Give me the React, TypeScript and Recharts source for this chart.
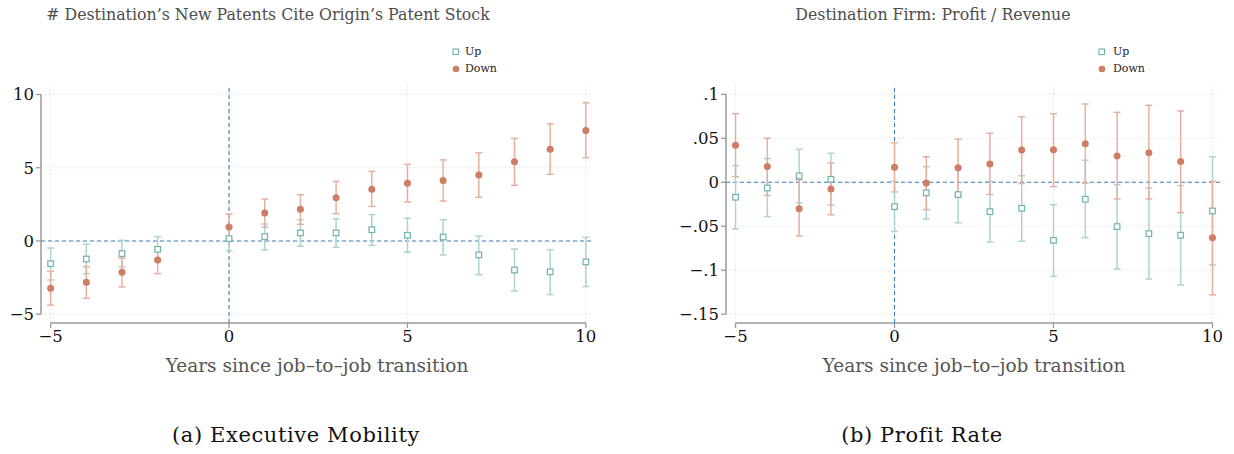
import React from "react"
import {
  CartesianGrid,
  ComposedChart,
  ErrorBar,
  ReferenceLine,
  Scatter,
  XAxis,
  YAxis,
} from "recharts"

const years = [-5, -4, -3, -2, 0, 1, 2, 3, 4, 5, 6, 7, 8, 9, 10]
const xTicks = [-5, 0, 5, 10]

// panel (a): destination's new patents citing origin's patent stock
const patentUp = [-1.55, -1.23, -0.86, -0.57, 0.16, 0.3, 0.55, 0.55, 0.77, 0.39, 0.27, -0.95, -1.98, -2.11, -1.43]
const patentUpLo = [-2.66, -2.23, -1.77, -1.43, -0.66, -0.61, -0.36, -0.43, -0.3, -0.77, -0.95, -2.3, -3.41, -3.66, -3.11]
const patentUpHi = [-0.48, -0.23, 0.05, 0.3, 1.0, 1.16, 1.45, 1.52, 1.8, 1.55, 1.45, 0.34, -0.55, -0.59, 0.25]
const patentDown = [-3.23, -2.82, -2.14, -1.3, 0.95, 1.91, 2.16, 2.95, 3.54, 3.95, 4.13, 4.5, 5.41, 6.27, 7.55]
const patentDownLo = [-4.38, -3.91, -3.14, -2.23, 0.05, 0.95, 1.14, 1.86, 2.36, 2.66, 2.73, 2.98, 3.8, 4.55, 5.68]
const patentDownHi = [-2.07, -1.75, -1.18, -0.39, 1.84, 2.86, 3.16, 4.07, 4.75, 5.23, 5.54, 6.02, 7.0, 8.0, 9.43]
const patentTicks = [-5, 0, 5, 10]

// panel (b): destination firm profit / revenue
const profitUp = [-0.017, -0.0065, 0.0072, 0.0034, -0.0277, -0.012, -0.014, -0.0334, -0.0296, -0.066, -0.0193, -0.0504, -0.0584, -0.0602, -0.0326]
const profitUpLo = [-0.053, -0.039, -0.0235, -0.026, -0.056, -0.0417, -0.046, -0.068, -0.067, -0.107, -0.063, -0.0985, -0.11, -0.1167, -0.094]
const profitUpHi = [0.019, 0.027, 0.0375, 0.033, 0.001, 0.0177, 0.018, 0.001, 0.0075, -0.0254, 0.025, -0.0027, -0.0065, -0.0038, 0.029]
const profitDown = [0.042, 0.0178, -0.03, -0.0076, 0.017, -0.0008, 0.0166, 0.0208, 0.0367, 0.037, 0.0439, 0.03, 0.0337, 0.0235, -0.063]
const profitDownLo = [0.0064, -0.015, -0.061, -0.037, -0.011, -0.031, -0.016, -0.014, -0.0015, -0.005, -0.001, -0.019, -0.019, -0.0345, -0.128]
const profitDownHi = [0.078, 0.05, 0.0026, 0.022, 0.045, 0.029, 0.049, 0.0557, 0.0746, 0.078, 0.089, 0.0795, 0.0875, 0.081, 0.001]
const profitTicks = [-0.15, -0.1, -0.05, 0, 0.05, 0.1]

const UP = "#6fb3ad"
const UP_BAR = "#add4d0"
const DOWN = "#cf7d63"
const DOWN_BAR = "#e6b0a0"
const AXIS = "#9a9a9a"
const REF = "#3f7fc0"
const SERIF = "'DejaVu Serif', serif"

function buildRows(up: number[], upLo: number[], upHi: number[], down: number[], downLo: number[], downHi: number[]) {
  return years.map((year, i) => ({
    year,
    up: up[i],
    upErr: [up[i] - upLo[i], upHi[i] - up[i]],
    down: down[i],
    downErr: [down[i] - downLo[i], downHi[i] - down[i]],
  }))
}

const fmtProfit = (v: number) => {
  if (v === 0) return "0"
  const s = String(Math.abs(v)).replace(/^0/, "")
  return v < 0 ? "\u2212" + s : s
}
const fmtInt = (v: number) => (v < 0 ? "\u2212" + Math.abs(v) : String(v))

const Square = (p: any) => (
  <rect x={p.cx - 2.8} y={p.cy - 2.8} width={5.6} height={5.6} fill="#fff" stroke={UP} strokeWidth={1.2} />
)
const Dot = (p: any) => <circle cx={p.cx} cy={p.cy} r={3.5} fill={DOWN} />

type PanelProps = {
  left: number
  width: number
  yAxisWidth: number
  rightMargin: number
  xDomain: [number, number]
  yDomain: [number, number]
  yTicks: number[]
  fmt: (v: number) => string
  rows: any[]
}

function Panel(props: PanelProps) {
  const { xDomain, yDomain, yTicks } = props
  return (
    <div style={{ position: "absolute", left: props.left, top: 0 }}>
      <ComposedChart
        width={props.width}
        height={454}
        data={props.rows}
        margin={{ top: 85, right: props.rightMargin, bottom: 101, left: 0 }}
      >
        <CartesianGrid
          stroke="#d6d6d6"
          strokeDasharray="1 3"
          horizontalValues={yTicks}
          verticalValues={xTicks}
        />
        <XAxis
          type="number"
          dataKey="year"
          domain={xDomain}
          ticks={xTicks}
          allowDataOverflow
          axisLine={false}
          tickLine={{ stroke: AXIS, strokeWidth: 1.3 }}
          tickSize={5}
          height={30}
          tick={{ fill: "#111", fontSize: 16.5, fontFamily: SERIF }}
          tickFormatter={fmtInt}
          label={{
            value: "Years since job\u2013to\u2013job transition",
            position: "bottom",
            offset: 6,
            fill: "#555",
            fontSize: 18.5,
            fontFamily: SERIF,
          }}
        />
        <YAxis
          type="number"
          domain={yDomain}
          ticks={yTicks}
          allowDataOverflow
          width={props.yAxisWidth}
          axisLine={false}
          tickLine={{ stroke: AXIS, strokeWidth: 1.3 }}
          tickSize={5}
          tick={{ fill: "#111", fontSize: 16.5, fontFamily: SERIF }}
          tickFormatter={props.fmt}
        />
        <ReferenceLine
          segment={[{ x: xDomain[0], y: yTicks[0] }, { x: xDomain[0], y: yTicks[yTicks.length - 1] }]}
          stroke={AXIS}
          strokeWidth={1.5}
          ifOverflow="visible"
        />
        <ReferenceLine
          segment={[{ x: xTicks[0], y: yDomain[0] }, { x: xTicks[xTicks.length - 1], y: yDomain[0] }]}
          stroke={AXIS}
          strokeWidth={1.5}
          ifOverflow="visible"
        />
        <ReferenceLine y={0} stroke={REF} strokeDasharray="4 3" strokeWidth={1.1} />
        <ReferenceLine x={0} stroke={REF} strokeDasharray="4 3" strokeWidth={1.1} />
        <Scatter dataKey="up" shape={Square} isAnimationActive={false}>
          <ErrorBar dataKey="upErr" direction="y" width={3.5} stroke={UP_BAR} strokeWidth={1.5} />
        </Scatter>
        <Scatter dataKey="down" shape={Dot} isAnimationActive={false}>
          <ErrorBar dataKey="downErr" direction="y" width={3.5} stroke={DOWN_BAR} strokeWidth={1.5} />
        </Scatter>
      </ComposedChart>
    </div>
  )
}

function LegendBox({ x, gap }: { x: number; gap: number }) {
  const item = (y: number, mark: React.ReactNode, text: string) => (
    <div style={{ position: "absolute", left: x - 4, top: y - 7, display: "flex", alignItems: "center", height: 14 }}>
      <svg width={8} height={8} style={{ marginRight: gap }}>
        {mark}
      </svg>
      <span style={{ fontFamily: SERIF, fontSize: 11, color: "#222" }}>{text}</span>
    </div>
  )
  return (
    <>
      {item(51.5, <rect x={1} y={1} width={5.5} height={5.5} fill="#fff" stroke={UP} strokeWidth={1.1} />, "Up")}
      {item(68.5, <circle cx={4} cy={4} r={3.3} fill={DOWN} />, "Down")}
    </>
  )
}

const textAt = (cx: number, cy: number, text: string, style: React.CSSProperties) => (
  <div
    style={{
      position: "absolute",
      left: cx - 300,
      width: 600,
      top: cy,
      transform: "translateY(-50%)",
      textAlign: "center",
      whiteSpace: "nowrap",
      ...style,
    }}
  >
    {text}
  </div>
)

export default function App() {
  const patentRows = buildRows(patentUp, patentUpLo, patentUpHi, patentDown, patentDownLo, patentDownHi)
  const profitRows = buildRows(profitUp, profitUpLo, profitUpHi, profitDown, profitDownLo, profitDownHi)
  const titleStyle = { fontFamily: SERIF, fontSize: 15.8, color: "#4d4d4d" }
  const capStyle = { fontFamily: SERIF, fontSize: 21, letterSpacing: 0.6, color: "#111" }
  return (
    <div style={{ position: "absolute", left: 0, top: 0, width: 1234, height: 454, background: "#fff", overflow: "hidden" }}>
      <Panel
        left={0}
        width={617}
        yAxisWidth={41}
        rightMargin={24}
        xDomain={[-5.27, 10.2]}
        yDomain={[-5.6, 10.65]}
        yTicks={patentTicks}
        fmt={fmtInt}
        rows={patentRows}
      />
      <Panel
        left={640}
        width={594}
        yAxisWidth={86}
        rightMargin={12}
        xDomain={[-5.3, 10.3]}
        yDomain={[-0.16, 0.1106]}
        yTicks={profitTicks}
        fmt={fmtProfit}
        rows={profitRows}
      />
      {textAt(268, 14, "# Destination\u2019s New Patents Cite Origin\u2019s Patent Stock", titleStyle)}
      {textAt(933, 14, "Destination Firm: Profit / Revenue", titleStyle)}
      <LegendBox x={456} gap={5} />
      <LegendBox x={1102} gap={7} />
      {textAt(296, 435, "(a) Executive Mobility", capStyle)}
      {textAt(922, 435, "(b) Profit Rate", capStyle)}
    </div>
  )
}
